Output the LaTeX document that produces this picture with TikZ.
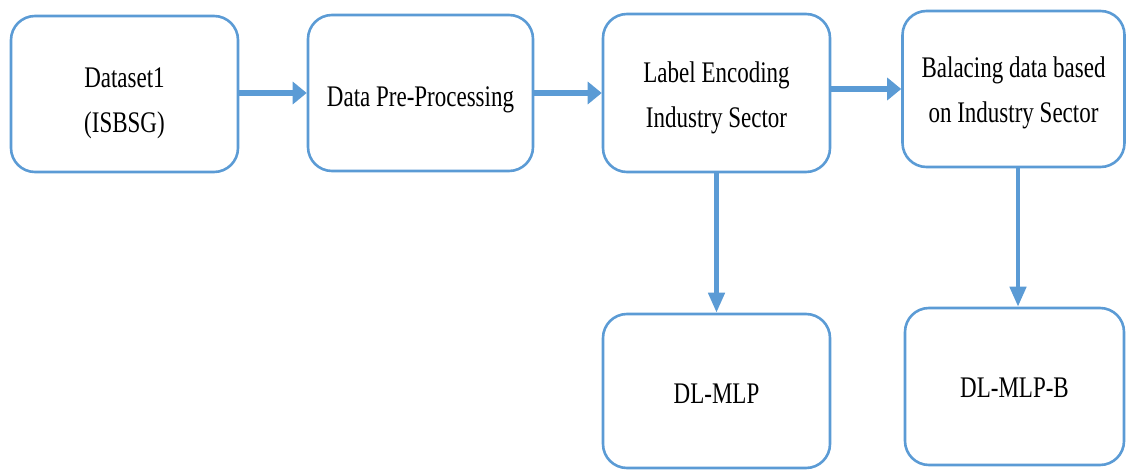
\documentclass[tikz,border=0pt]{standalone}
\usepackage{fontspec}
\setmainfont{Liberation Serif}
\usepackage{graphicx}
\usetikzlibrary{arrows.meta}

\definecolor{boxblue}{RGB}{91,155,213}
\newcommand{\boxtext}[1]{\scalebox{1}[1.3]{\fontsize{23}{35}\selectfont\begin{tabular}{@{}c@{}}#1\end{tabular}}}

\begin{document}
\begin{tikzpicture}[x=1pt,y=1pt,yscale=-1,xscale=1,
  blockbox/.style={draw=boxblue,line width=2.6pt,rounded corners=24pt,fill=white,inner sep=0pt},
  flowarrow/.style={draw=boxblue,line width=6.5pt,-{Triangle[length=14pt,width=22pt]}},
  downarrow/.style={draw=boxblue,line width=4.5pt,-{Triangle[length=20pt,width=16pt]}}]
\useasboundingbox (0,0) rectangle (1131,470);

% Boxes
\node[blockbox,minimum width=227,minimum height=156] (ds) at (124.5,94) {};
\node[blockbox,minimum width=225,minimum height=156] (pre) at (420.5,93) {};
\node[blockbox,minimum width=227,minimum height=158] (enc) at (716.5,93) {};
\node[blockbox,minimum width=222,minimum height=156] (bal) at (1013.5,89) {};
\node[blockbox,minimum width=227,minimum height=154] (mlp) at (716.5,391) {};
\node[blockbox,minimum width=219,minimum height=157] (mlpb) at (1014.5,386.5) {};

% Texts
\node (dstxt) at (124.5,101) {\boxtext{Dataset1\\(ISBSG)}};
\node (pretxt) at (420.5,97) {\boxtext{Data Pre-Processing}};
\node (enctxt) at (716.5,96) {\boxtext{Label Encoding\\Industry Sector}};
\node (baltxt) at (1013.5,91) {\boxtext{Balacing data based\\on Industry Sector}};
\node (mlptxt) at (716.5,394) {\boxtext{DL-MLP}};
\node (mlpbtxt) at (1014.5,388) {\boxtext{DL-MLP-B}};

% Arrows
\draw[flowarrow] (ds.east |- pre) -- (pre.west);
\draw[flowarrow] (pre.east) -- (enc.west);
\draw[flowarrow] (enc.east |- bal) -- (bal.west);
\draw[downarrow] (enc.south) -- (mlp.north);
\draw[downarrow] (bal.south -| 1018,0) -- (mlpb.north -| 1018,0);

\end{tikzpicture}
\end{document}
